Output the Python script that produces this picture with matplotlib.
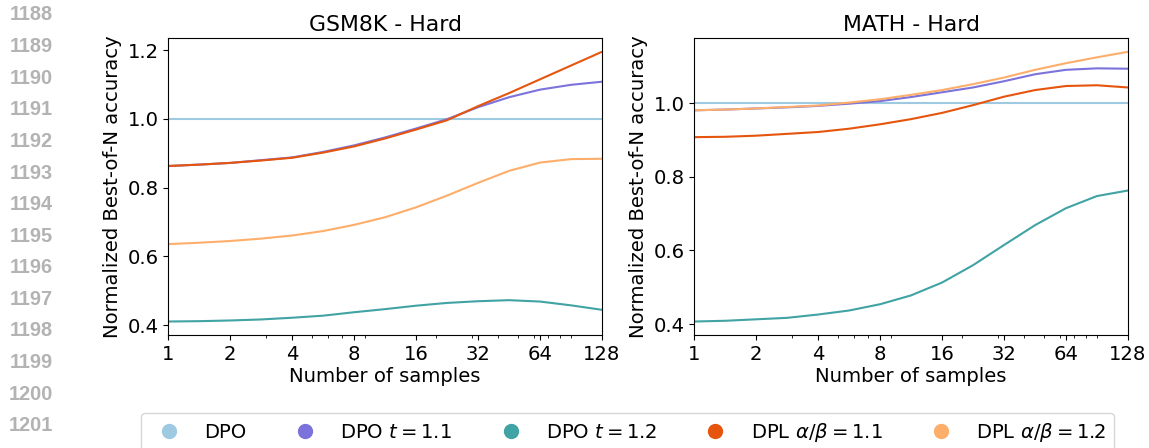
import matplotlib
matplotlib.use("Agg")
import matplotlib.pyplot as plt
from matplotlib.lines import Line2D

# samples (read at half-doubling positions along the log axis)
samples = [1, 1.41, 2, 2.83, 4, 5.66, 8, 11.3, 16, 22.6, 32, 45.3, 64, 90.5, 128]
xticks = [1, 2, 4, 8, 16, 32, 64, 128]

labels = ["DPO", r"DPO $t = 1.1$", r"DPO $t = 1.2$",
          r"DPL $\alpha/\beta = 1.1$", r"DPL $\alpha/\beta = 1.2$"]
colors = ["#9ecae1", "#7b73db", "#41a3a3", "#e6550d", "#fdae6b"]

# GSM8K - Hard
gsm_dpo = [1.0, 1.0, 1.0, 1.0, 1.0, 1.0, 1.0, 1.0, 1.0, 1.0, 1.0, 1.0, 1.0, 1.0, 1.0]
gsm_t11 = [0.863, 0.867, 0.872, 0.880, 0.888, 0.904, 0.923, 0.946, 0.972, 0.999,
           1.034, 1.063, 1.085, 1.099, 1.108]
gsm_t12 = [0.411, 0.412, 0.414, 0.417, 0.422, 0.428, 0.438, 0.447, 0.457, 0.465,
           0.470, 0.473, 0.469, 0.458, 0.445]
gsm_dpl11 = [0.863, 0.867, 0.872, 0.879, 0.887, 0.902, 0.920, 0.943, 0.969, 0.996,
             1.037, 1.075, 1.115, 1.155, 1.195]
gsm_dpl12 = [0.636, 0.640, 0.645, 0.652, 0.661, 0.674, 0.692, 0.714, 0.743, 0.777,
             0.814, 0.849, 0.873, 0.883, 0.884]

# MATH - Hard
math_dpo = [1.0, 1.0, 1.0, 1.0, 1.0, 1.0, 1.0, 1.0, 1.0, 1.0, 1.0, 1.0, 1.0, 1.0, 1.0]
math_t11 = [0.981, 0.983, 0.986, 0.989, 0.993, 0.999, 1.006, 1.017, 1.030, 1.043,
            1.060, 1.079, 1.091, 1.095, 1.094]
math_t12 = [0.407, 0.409, 0.413, 0.417, 0.426, 0.437, 0.454, 0.478, 0.513, 0.560,
            0.615, 0.669, 0.715, 0.748, 0.763]
math_dpl11 = [0.908, 0.909, 0.912, 0.917, 0.922, 0.931, 0.943, 0.957, 0.974, 0.995,
              1.018, 1.036, 1.047, 1.049, 1.043]
math_dpl12 = [0.981, 0.983, 0.986, 0.990, 0.994, 1.002, 1.011, 1.023, 1.036, 1.052,
              1.070, 1.091, 1.109, 1.125, 1.140]

panels = [
    ("GSM8K - Hard", [gsm_dpo, gsm_t11, gsm_t12, gsm_dpl11, gsm_dpl12]),
    ("MATH - Hard", [math_dpo, math_t11, math_t12, math_dpl11, math_dpl12]),
]

line_numbers = list(range(1188, 1202))

W, H = 1149, 448
fig = plt.figure(figsize=(W / 100, H / 100), dpi=100)
FS = 14.1

ax_lefts = [168.3, 694.3]
for (title, series), left_px in zip(panels, ax_lefts):
    ax = fig.add_axes([left_px / W, (H - 335) / H, 433.7 / W, 296.7 / H])
    for ys, c in zip(series, colors):
        ax.plot(samples, ys, color=c, linewidth=1.5)
    ax.set_xscale("log")
    ax.set_xlim(1, 128)
    ax.set_xticks(xticks, [str(t) for t in xticks])
    ax.tick_params(labelsize=FS)
    ax.set_title(title, fontsize=15.8, pad=5)
    ax.set_xlabel("Number of samples", fontsize=FS, labelpad=2)
    ax.set_ylabel("Normalized Best-of-N accuracy", fontsize=FS)

# line numbers from the paper margin
for i, n in enumerate(line_numbers):
    fig.text(53 / W, 1 - (15 + 31.6 * i) / H, str(n), ha="right", va="center",
             family="Liberation Sans", fontweight="bold", fontsize=14.4,
             color="#b3b3b3")

handles = [Line2D([], [], marker="o", linestyle="", color=c, markersize=10)
           for c in colors]
fig.legend(handles, labels, loc="upper center", ncol=5, fontsize=FS,
           bbox_to_anchor=((136.7 + 1119) / 2 / W, (H - 413.3) / H),
           borderaxespad=0)

fig.savefig("out.png", dpi=100)
